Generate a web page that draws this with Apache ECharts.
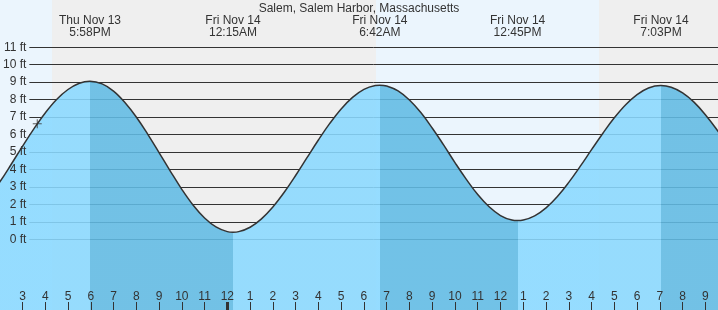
<!DOCTYPE html>
<html><head><meta charset="utf-8">
<script src="https://cdn.jsdelivr.net/npm/echarts@6/dist/echarts.min.js"></script>
<style>html,body{margin:0;padding:0;background:#efefef;overflow:hidden}#c{width:718px;height:310px}</style>
</head><body><div id="c"></div>
<script>
// ---- data (hours counted from Thu Nov 13 00:00) ----
const chartTitle = 'Salem, Salem Harbor, Massachusetts';
const tideTimes = [17.967, 24.25, 30.7, 36.75, 43.05];
const tideDays = ['Thu Nov 13', 'Fri Nov 14', 'Fri Nov 14', 'Fri Nov 14', 'Fri Nov 14'];
const tideClock = ['5:58PM', '12:15AM', '6:42AM', '12:45PM', '7:03PM'];
const tideHeights = [9.05, 0.42, 8.83, 1.08, 8.81];
const curveTimes = [13, 13.5, 14, 14.5, 15, 15.5, 16, 16.5, 17, 17.5, 17.967, 18.5, 19, 19.5, 20, 20.5, 21, 21.5, 22, 22.5, 23, 23.5, 24, 24.25, 24.5, 25, 25.5, 26, 26.5, 27, 27.5, 28, 28.5, 29, 29.5, 30, 30.5, 30.7, 31, 31.5, 32, 32.5, 33, 33.5, 34, 34.5, 35, 35.5, 36, 36.5, 36.75, 37, 37.5, 38, 38.5, 39, 39.5, 40, 40.5, 41, 41.5, 42, 42.5, 43.05, 43.5, 44, 44.5, 45, 45.5, 46];
const curveHeights = [1.59, 2.36, 3.28, 4.29, 5.33, 6.33, 7.24, 8.01, 8.58, 8.94, 9.05, 8.90, 8.49, 7.84, 7.01, 6.03, 4.97, 3.90, 2.87, 1.96, 1.23, 0.72, 0.45, 0.42, 0.45, 0.70, 1.18, 1.86, 2.70, 3.66, 4.68, 5.69, 6.64, 7.47, 8.13, 8.59, 8.81, 8.83, 8.78, 8.50, 7.98, 7.26, 6.38, 5.41, 4.40, 3.44, 2.57, 1.87, 1.37, 1.11, 1.08, 1.11, 1.35, 1.81, 2.46, 3.27, 4.18, 5.14, 6.08, 6.96, 7.71, 8.29, 8.67, 8.81, 8.71, 8.39, 7.86, 7.14, 6.29, 5.34];
const heightTicks = [0, 1, 2, 3, 4, 5, 6, 7, 8, 9, 10, 11];
const hourTicks = [15, 16, 17, 18, 19, 20, 21, 22, 23, 24, 25, 26, 27, 28, 29, 30, 31, 32, 33, 34, 35, 36, 37, 38, 39, 40, 41, 42, 43, 44, 45];
const midnightTicks = [24];
const daylight = [[13, 16.30], [30.53, 40.33]];
const nextLowTime = 49.6;
const nowTime = 15.65, nowHeight = 6.62;

// ---- view ----
const xMin = 14.013, xMax = 45.555;
const yMin = -4.033, yMax = 13.70;
const FONT = 'Liberation Sans, Arial, sans-serif';
const TXT = '#333';
const WATER = '#8ad9ff', WATER_DARK = '#61bbe4';

const pieces = [];
const bounds = tideTimes.concat([nextLowTime]);
pieces.push({ lt: bounds[0], color: WATER });
for (let i = 0; i < tideTimes.length; i++) {
  const falling = tideHeights[i] > (i + 1 < tideHeights.length ? tideHeights[i + 1] : 0);
  const p = { gte: bounds[i], color: falling ? WATER_DARK : WATER };
  if (i + 1 < tideTimes.length) p.lt = bounds[i + 1];
  pieces.push(p);
}

const noLine = { show: false, onZero: false };
const chart = echarts.init(document.getElementById('c'));
chart.setOption({
  animation: false,
  backgroundColor: '#efefef',
  title: {
    text: chartTitle, left: 'center', top: 3, padding: 0, z: 20,
    textStyle: { fontSize: 12, fontWeight: 'normal', color: TXT, fontFamily: FONT, lineHeight: 12 }
  },
  grid: [
    { left: 0, right: 0, top: 0, bottom: 0 },
    { left: 29, right: 0, top: 0, bottom: 0 },
    { left: 0, right: 0, top: 0, bottom: 0 }
  ],
  xAxis: [
    {
      gridIndex: 0, type: 'value', min: xMin, max: xMax, position: 'bottom', z: 20,
      axisLine: noLine, splitLine: { show: false },
      axisTick: { show: true, inside: true, length: 8, customValues: hourTicks, lineStyle: { color: TXT, width: 1 } },
      axisLabel: {
        show: true, inside: true, margin: 7, customValues: hourTicks,
        fontSize: 12, lineHeight: 12, color: TXT, fontFamily: FONT,
        formatter: v => String((Math.round(v) % 12) || 12)
      }
    },
    { gridIndex: 1, type: 'value', min: 0, max: 1, show: false, axisLine: noLine },
    {
      gridIndex: 2, type: 'value', min: xMin, max: xMax, position: 'top', z: 20,
      axisLine: noLine, splitLine: { show: false }, axisTick: { show: false },
      axisLabel: {
        show: true, inside: true, margin: 15, customValues: tideTimes,
        fontSize: 12, lineHeight: 12, color: TXT, fontFamily: FONT,
        formatter: v => {
          const i = tideTimes.findIndex(t => Math.abs(t - v) < 1e-6);
          return i < 0 ? '' : tideDays[i] + '\n' + tideClock[i];
        }
      }
    },
    {
      gridIndex: 2, type: 'value', min: xMin, max: xMax, position: 'bottom', z: 20,
      axisLine: noLine, splitLine: { show: false },
      axisTick: { show: true, inside: true, length: 8, customValues: midnightTicks, lineStyle: { color: TXT, width: 3 } },
      axisLabel: { show: false }
    }
  ],
  yAxis: [
    { gridIndex: 0, type: 'value', min: yMin, max: yMax, show: false, axisLine: noLine },
    {
      gridIndex: 1, type: 'value', min: yMin, max: yMax, position: 'left', z: 20,
      axisLine: noLine, axisTick: { show: false }, splitLine: { show: false },
      axisLabel: {
        show: true, margin: 3, customValues: heightTicks, showMinLabel: true, showMaxLabel: true,
        fontSize: 12, color: TXT, fontFamily: FONT, formatter: v => v + ' ft'
      }
    },
    { gridIndex: 2, type: 'value', min: yMin, max: yMax, show: false, axisLine: noLine }
  ],
  visualMap: {
    type: 'piecewise', show: false, dimension: 0, seriesIndex: 2, pieces: pieces
  },
  series: [
    {
      name: 'daylight', type: 'line', xAxisIndex: 0, yAxisIndex: 0, data: [], z: 0, silent: true,
      markArea: {
        silent: true, z: 0,
        itemStyle: { color: '#ebf5fd' },
        data: daylight.map(d => [{ xAxis: d[0] }, { xAxis: d[1] }])
      }
    },
    {
      name: 'grid', type: 'line', xAxisIndex: 1, yAxisIndex: 1, data: [], z: 1, silent: true,
      markLine: {
        silent: true, z: 1, symbol: ['none', 'none'], animation: false,
        lineStyle: { color: TXT, width: 1, type: 'solid' },
        label: { show: false },
        data: heightTicks.map(v => ({ yAxis: v }))
      }
    },
    {
      name: 'tide', type: 'line', xAxisIndex: 0, yAxisIndex: 0, z: 2,
      data: curveTimes.map((t, i) => [t, curveHeights[i]]),
      smooth: 0.4, showSymbol: false, silent: true,
      lineStyle: { color: '#333', width: 1.5 },
      areaStyle: { origin: 'start', opacity: 0.88 }
    },
    {
      name: 'now', type: 'scatter', xAxisIndex: 0, yAxisIndex: 0, z: 3, silent: true,
      data: [[nowTime, nowHeight]],
      symbol: 'path://M0,4L8,4M4,0L4,8', symbolSize: 9,
      itemStyle: { color: 'none', borderColor: '#333', borderWidth: 1 }
    }
  ]
});
</script></body></html>
